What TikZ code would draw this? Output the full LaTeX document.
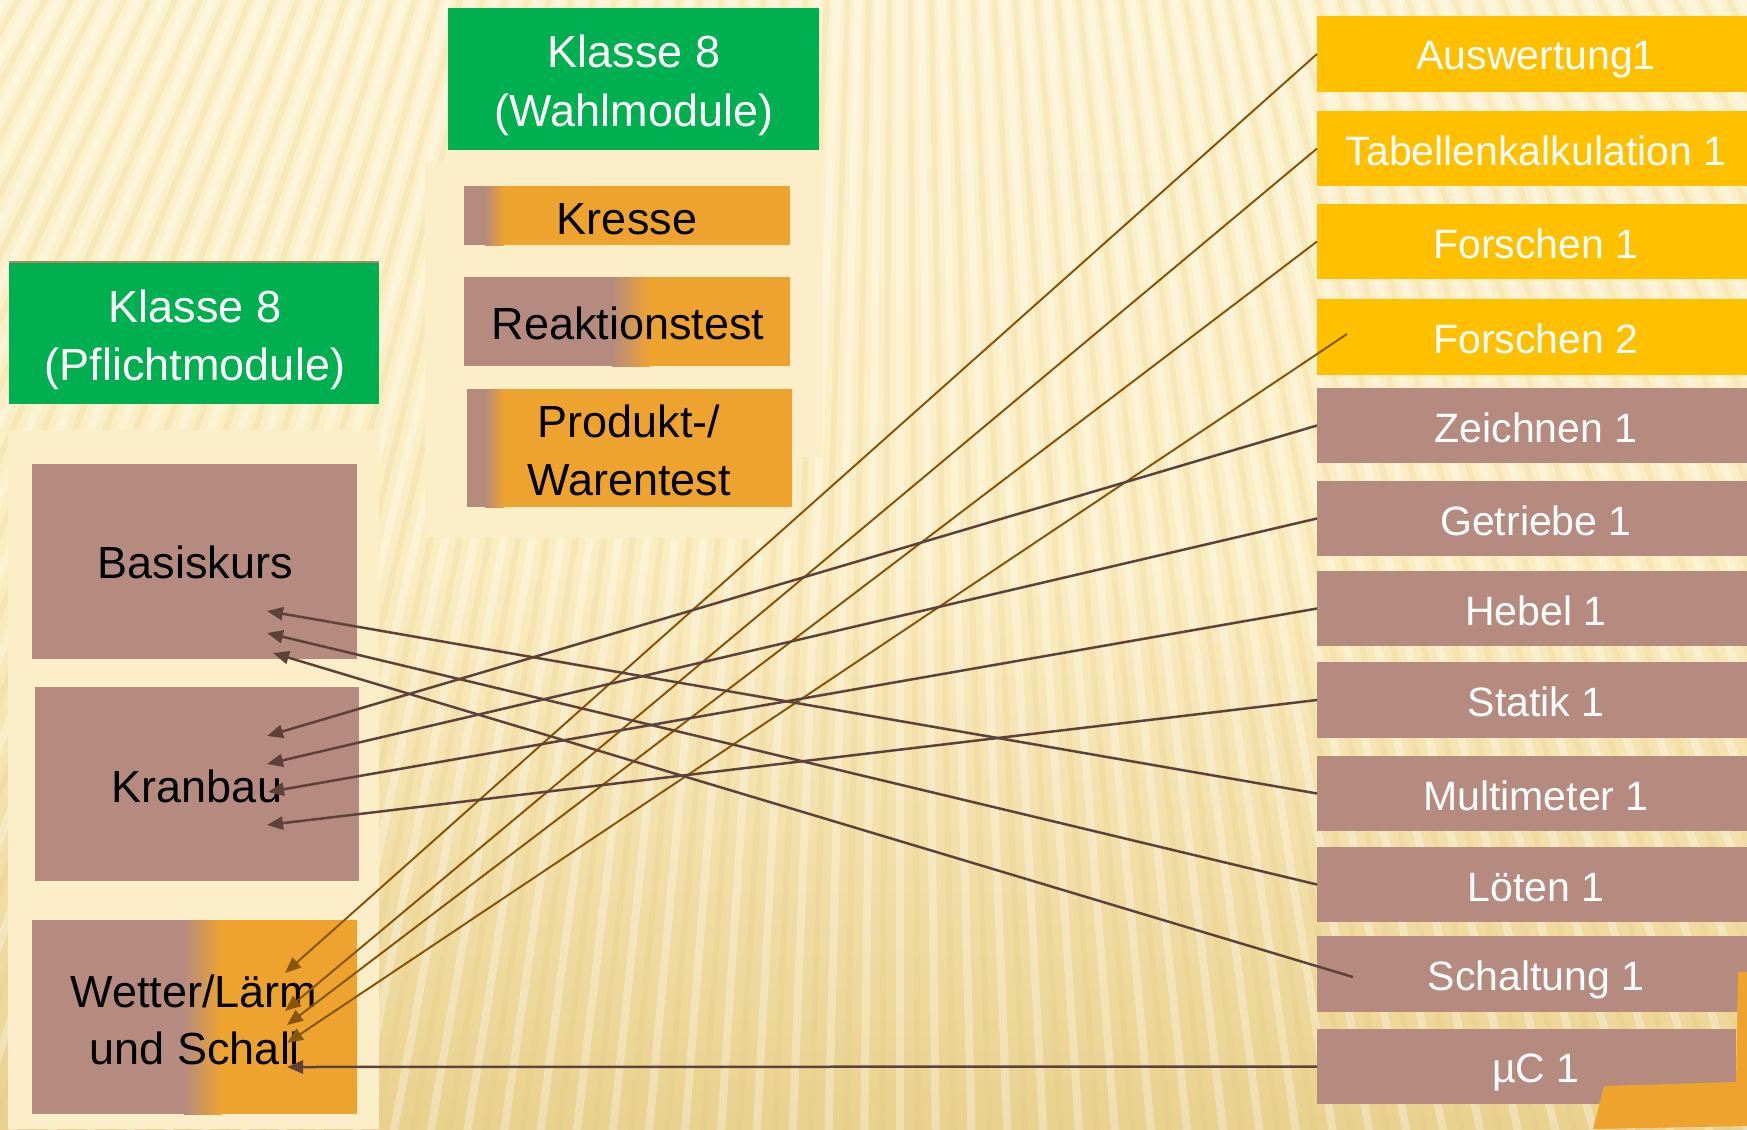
\documentclass[tikz,border=0pt]{standalone}
\usepackage{fontspec}
\setmainfont{Liberation Sans}
\usetikzlibrary{arrows.meta}
\definecolor{grn}{RGB}{0,176,80}
\definecolor{gold}{RGB}{255,192,0}
\definecolor{brn}{RGB}{181,139,127}
\definecolor{orng}{RGB}{239,163,47}
\definecolor{cream}{RGB}{252,238,201}
\definecolor{lineG}{RGB}{133,87,14}
\definecolor{lineB}{RGB}{94,66,58}
\definecolor{bgtop}{RGB}{253,242,206}
\definecolor{bgmid}{RGB}{251,237,194}
\definecolor{bgbot}{RGB}{233,209,143}
\definecolor{tan}{RGB}{226,196,122}
\begin{document}
\begin{tikzpicture}[x=1pt,y=-1pt,
  box/.style={inner sep=0pt,outer sep=0pt,anchor=north west},
  gradbox/.style 2 args={fill=orng, path picture={
    \fill[brn] (path picture bounding box.north west) rectangle ([xshift={(#1+1.5)*1pt}]path picture bounding box.south west);
    \shade[left color=brn,right color=orng] ([xshift=#1 pt]path picture bounding box.north west) rectangle ([xshift={(#1+#2)*1pt}]path picture bounding box.south west);
  }},
  wtxt/.style={anchor=base,inner sep=0pt,text=white,font=\fontsize{45}{54}\selectfont},
  btxt/.style={anchor=base,inner sep=0pt,text=black,font=\fontsize{45}{54}\selectfont},
  rtxt/.style={anchor=base,inner sep=0pt,text=white,font=\fontsize{41}{50}\selectfont},
  tip/.style={-{Triangle[length=16pt,width=13pt]}},
  garrow/.style={draw=lineG,line width=2pt,tip},
  barrow/.style={draw=lineB,line width=2.5pt,tip}]
\useasboundingbox (0,0) rectangle (1747,1129);
% background
\shade[top color=bgtop,bottom color=bgbot,middle color=bgmid] (0,0) rectangle (1747,1129);
\begin{scope}
  \clip (0,0) rectangle (1747,1129);
  \foreach \a in {-36,-35.25,...,34}{
    \draw[white,opacity=0.3,line width=8pt] (900,-1600) -- ++({90-\a}:4500);
    \draw[tan,opacity=0.17,line width=6pt] (900,-1600) -- ++({90-\a-0.375}:4500);
  }
\end{scope}
% panels
\fill[cream] (8,430) rectangle (379,1129);
\fill[cream] (425,162) -- (448,162) -- (448,150) -- (822,150) -- (822,457) -- (796,457) -- (796,538) -- (425,538) -- cycle;
% green titles
\node[box,fill=grn,minimum width=371pt,minimum height=142pt] (wahl) at (448,8) {};
\node[box,fill=grn,minimum width=370pt,minimum height=143pt] (pfl) at (9,261) {};
\draw[draw={rgb,255:red,160;green,140;blue,100},line width=2pt] ([yshift=-1pt]pfl.north west) -- ([yshift=-1pt]pfl.north east);
% Wahl boxes
\node[box,gradbox={21}{19},minimum width=326pt,minimum height=59pt] (kre) at (464,186) {};
\node[box,gradbox={148}{38},minimum width=326pt,minimum height=89pt] (rea) at (464,277) {};
\node[box,gradbox={18}{19},minimum width=325pt,minimum height=118pt] (pro) at (467,389) {};
% Pflicht boxes
\node[box,fill=brn,minimum width=325pt,minimum height=195pt] (bas) at (32,464) {};
\node[box,fill=brn,minimum width=324pt,minimum height=194pt] (kra) at (35,687) {};
\node[box,gradbox={152}{38},minimum width=325pt,minimum height=194pt] (wet) at (32,920) {};
% right boxes
\node[box,fill=gold,minimum width=430pt,minimum height=76pt] (aus) at (1317,16) {};
\node[box,fill=gold,minimum width=430pt,minimum height=75pt] (tab) at (1317,111) {};
\node[box,fill=gold,minimum width=430pt,minimum height=75pt] (fo1) at (1317,204) {};
\node[box,fill=gold,minimum width=430pt,minimum height=76pt] (fo2) at (1317,299) {};
\node[box,fill=brn,minimum width=430pt,minimum height=75pt] (zei) at (1317,388) {};
\node[box,fill=brn,minimum width=430pt,minimum height=75pt] (get) at (1317,481) {};
\node[box,fill=brn,minimum width=430pt,minimum height=75pt] (heb) at (1317,571) {};
\node[box,fill=brn,minimum width=430pt,minimum height=76pt] (sta) at (1317,662) {};
\node[box,fill=brn,minimum width=430pt,minimum height=75pt] (mul) at (1317,756) {};
\node[box,fill=brn,minimum width=430pt,minimum height=75pt] (lot) at (1317,847) {};
\node[box,fill=brn,minimum width=430pt,minimum height=76pt] (sch) at (1317,936) {};
\node[box,fill=brn,minimum width=419pt,minimum height=75pt] (muc) at (1317,1029) {};
% corner decoration
\fill[orng] (1738,972) -- (1747,972) -- (1747,1126) -- (1593,1129) -- (1604,1086) -- (1736,1082) -- cycle;
% texts
\node[wtxt] (twa1) at (634,68) {Klasse 8};
\node[wtxt] (twa2) at (634,127) {(Wahlmodule)};
\node[wtxt] (tpf1) at (195,322) {Klasse 8};
\node[wtxt] (tpf2) at (195,380) {(Pflichtmodule)};
\node[btxt] (tkre) at (627,234) {Kresse};
\node[btxt] (trea) at (628,339) {Reaktionstest};
\node[btxt] (tpro1) at (629,437) {Produkt-/};
\node[btxt] (tpro2) at (629,495) {Warentest};
\node[btxt] (tbas) at (195,578) {Basiskurs};
\node[btxt] (tkra) at (197,802) {Kranbau};
\node[btxt] (twet1) at (194,1007) {Wetter/Lärm};
\node[btxt] (twet2) at (195,1064) {und Schall};
\node[rtxt] (taus) at (1536,70) {Auswertung1};
\node[rtxt] (ttab) at (1536,165) {Tabellenkalkulation 1};
\node[rtxt] (tfo1) at (1536,258) {Forschen 1};
\node[rtxt] (tfo2) at (1536,353) {Forschen 2};
\node[rtxt] (tzei) at (1536,442) {Zeichnen 1};
\node[rtxt] (tget) at (1536,535) {Getriebe 1};
\node[rtxt] (theb) at (1536,625) {Hebel 1};
\node[rtxt] (tsta) at (1536,716) {Statik 1};
\node[rtxt] (tmul) at (1536,810) {Multimeter 1};
\node[rtxt] (tlot) at (1536,901) {Löten 1};
\node[rtxt] (tsch) at (1536,990) {Schaltung 1};
\node[rtxt] (tmuc) at (1536,1082) {µC 1};
% connector end points
\coordinate (b1) at (267,611);
\coordinate (b2) at (267,633);
\coordinate (b3) at (273,653);
\coordinate (k1) at (267,736);
\coordinate (k2) at (267,764);
\coordinate (k3) at (268,792);
\coordinate (k4) at (267,825);
\coordinate (w1) at (285,973);
\coordinate (w2) at (285,1011);
\coordinate (w3) at (287,1025);
\coordinate (w4) at (287,1043);
\coordinate (w5) at (287,1067);
\coordinate (fo2s) at (1347,334);
\coordinate (schs) at (1353,977);
% connectors
\draw[garrow] (aus.west) -- (w1);
\draw[garrow] (tab.west) -- (w2);
\draw[garrow] (fo1.west) -- (w3);
\draw[garrow] (fo2s) -- (w4);
\draw[barrow] (zei.west) -- (k1);
\draw[barrow] (get.west) -- (k2);
\draw[barrow] (heb.west) -- (k3);
\draw[barrow] (sta.west) -- (k4);
\draw[barrow] (mul.west) -- (b1);
\draw[barrow] (lot.west) -- (b2);
\draw[barrow] (schs) -- (b3);
\draw[barrow] (muc.west) -- (w5);
\end{tikzpicture}
\end{document}
